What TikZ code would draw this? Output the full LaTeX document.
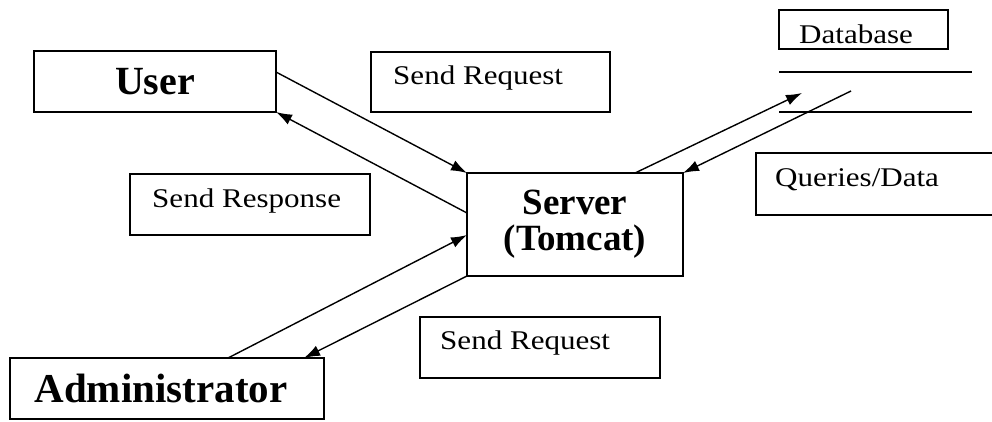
\documentclass[tikz,border=0pt]{standalone}
\usepackage{fontspec}
\setmainfont[FakeStretch=1.15]{Liberation Serif}
\newfontfamily\boldserif[BoldFont={Liberation Serif Bold}]{Liberation Serif}
\usetikzlibrary{arrows.meta}
\tikzset{
  box/.style={draw, line width=1.5pt, inner sep=0pt, outer sep=0pt, rectangle},
  lbl/.style={anchor=base west, inner sep=0pt, font=\fontsize{27}{30}\selectfont},
  arr/.style={line width=1.4pt, -{Latex[length=16pt,width=11pt]}},
  plain/.style={line width=1.4pt}
}
\begin{document}
\begin{tikzpicture}[x=1pt,y=-1pt]
\useasboundingbox (0,0) rectangle (992,421);
% boxes
\node[box, minimum width=242pt, minimum height=61pt, font=\boldserif\bfseries\fontsize{40}{44}\selectfont] (user) at (155,81.5) {User};
\node[box, minimum width=239pt, minimum height=60pt] (req1) at (490.5,82) {};
\node[box, minimum width=240pt, minimum height=61pt] (resp) at (250,204.5) {};
\node[box, minimum width=216pt, minimum height=103pt, align=center, font=\boldserif\bfseries\fontsize{37}{36}\selectfont] (server) at (575,224.5) {Server\\(Tomcat)};
\node[box, minimum width=169pt, minimum height=39pt] (db) at (863.5,29.5) {};
\node[box, minimum width=237pt, minimum height=62pt] (queries) at (874.5,184) {};
\node[box, minimum width=240pt, minimum height=61pt] (req2) at (540,347.5) {};
\node[box, minimum width=314pt, minimum height=61pt, font=\boldserif\bfseries\fontsize{41}{44}\selectfont] (admin) at (167,388.5) {Administrator\hspace*{12pt}};
% labels
\node[lbl] (t1) at (393,84) {Send Request};
\node[lbl] (t2) at (152,207) {Send Response};
\node[lbl] (t3) at (799,43) {Database};
\node[lbl] (t4) at (775,186) {Queries/Data};
\node[lbl] (t5) at (440,349) {Send Request};
% database store lines
\coordinate (dbl1a) at (779,72);
\coordinate (dbl1b) at (972,72);
\coordinate (dbl2a) at (779,112);
\coordinate (dbl2b) at (972,112);
\draw[plain] (dbl1a) -- (dbl1b);
\draw[plain] (dbl2a) -- (dbl2b);
\coordinate (dbin) at (802,93);
\coordinate (dbout) at (851,91);
% connectors
\draw[arr] ([yshift=-21pt]user.north east) -- (server.north west);
\draw[arr] ([yshift=-40pt]server.north west) -- (user.south east);
\draw[arr] ([xshift=168pt]server.north west) -- (dbin);
\draw[arr] (dbout) -- (server.north east);
\draw[arr] ([xshift=218pt]admin.north west) -- ([yshift=-62pt]server.north west);
\draw[arr] (server.south west) -- ([xshift=294pt]admin.north west);
\end{tikzpicture}
\end{document}
